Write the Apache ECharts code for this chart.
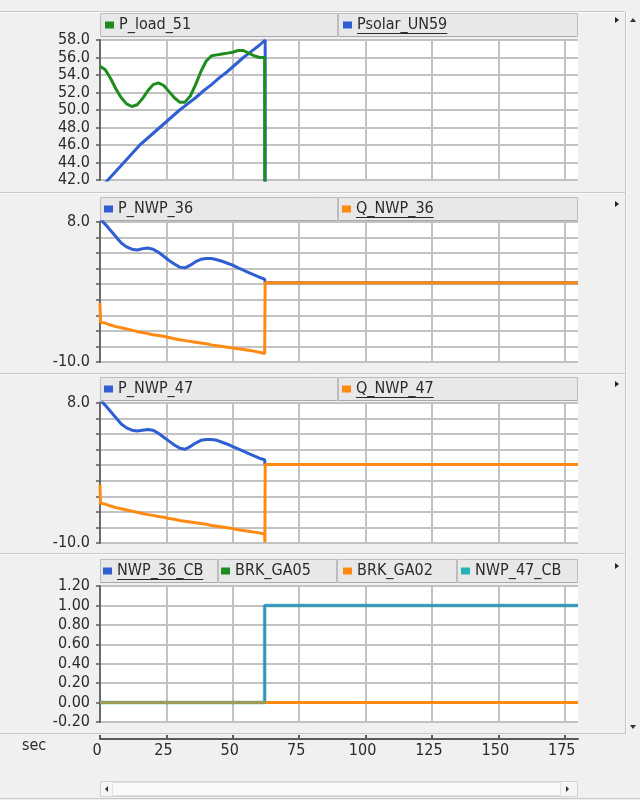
<!DOCTYPE html>
<html>
<head>
<meta charset="utf-8">
<script src="https://cdn.jsdelivr.net/npm/echarts@6/dist/echarts.min.js"></script>
<style>
html,body{margin:0;padding:0;background:#f0f0f0;}
#chart{width:640px;height:800px;}
</style>
</head>
<body>
<div id="chart"></div>
<script>
// ---- time axis ----
const timeTicks = [0, 25, 50, 75, 100, 125, 150, 175];
const timeRange = [0, 180];

// ---- panel 1: load and solar power ----
const loadTime = [0,2,4,6,8,10,12,14,16,18,20,22,24,26,28,30,32,34,36,38,40,42,44,46,48,50,52,54,56,58,60,62,62.1];
const pLoad51 = [55.0,54.6,53.6,52.4,51.4,50.7,50.4,50.6,51.3,52.2,52.9,53.1,52.8,52.1,51.4,50.9,50.9,51.6,52.9,54.4,55.6,56.2,56.3,56.4,56.5,56.6,56.8,56.8,56.5,56.2,56.0,56.0,0];
const solarTime = [0,3,6,9,12,15,18,21,24,27,30,33,36,39,42,45,48,51,54,57,60,62.2,62.3];
const pSolarUN59 = [41.0,42.0,43.0,44.0,45.0,46.0,46.8,47.6,48.4,49.2,50.0,50.7,51.4,52.2,52.9,53.7,54.4,55.2,56.0,56.7,57.4,58.0,0];
const range1 = [42, 58, 2];

// ---- panel 2: NWP 36 ----
const nwp36Time = [0,0.2,2,4,6,8,10,12,14,16,18,20,22,24,26,28,30,32,34,36,38,40,42,44,46,48,50,52,54,56,58,60,62,62.2,180];
const pNWP36 = [8.4,8.3,7.7,6.9,6.1,5.3,4.8,4.5,4.4,4.55,4.65,4.5,4.1,3.6,3.05,2.6,2.2,2.1,2.45,2.9,3.2,3.3,3.3,3.15,2.95,2.7,2.45,2.1,1.8,1.5,1.2,0.9,0.65,0.2,0.2];
const qNWP36 = [-2.4,-4.9,-5.0,-5.25,-5.45,-5.6,-5.75,-5.9,-6.1,-6.2,-6.35,-6.5,-6.6,-6.7,-6.85,-7.0,-7.15,-7.25,-7.35,-7.45,-7.55,-7.65,-7.8,-7.9,-8.0,-8.1,-8.2,-8.3,-8.4,-8.5,-8.6,-8.75,-8.9,0.2,0.2];
const range2 = [-10, 8, 2];

// ---- panel 3: NWP 47 ----
const nwp47Time = [0,0.2,2,4,6,8,10,12,14,16,18,20,22,24,26,28,30,32,34,36,38,40,42,44,46,48,50,52,54,56,58,60,62,62.1,62.2,180];
const pNWP47 = [8.4,8.3,7.7,6.9,6.1,5.3,4.8,4.5,4.4,4.5,4.6,4.5,4.1,3.6,3.1,2.6,2.2,2.05,2.4,2.85,3.2,3.3,3.3,3.2,2.95,2.7,2.4,2.1,1.8,1.5,1.2,0.9,0.7,0.1,0.1,0.1];
const qNWP47 = [-2.5,-4.9,-5.0,-5.25,-5.45,-5.6,-5.75,-5.9,-6.05,-6.2,-6.35,-6.45,-6.6,-6.7,-6.85,-6.95,-7.1,-7.2,-7.3,-7.4,-7.5,-7.6,-7.75,-7.85,-7.95,-8.05,-8.15,-8.3,-8.4,-8.5,-8.6,-8.7,-8.85,-9.9,0.1,0.1];
const range3 = [-10, 8, 2];

// ---- panel 4: breaker states ----
const cbTime = [0, 62, 62, 180];
const nwp36CB = [0, 0, 1, 1];
const brkGA05 = [0, 0, 0, 0];
const brkGA02 = [0, 0, 0, 0];
const nwp47CB = [0, 0, 1, 1];
const range4 = [-0.2, 1.2, 0.2];

// ---- styling ----
const FONT = "'DejaVu Sans Condensed','DejaVu Sans',sans-serif";
const TEXT = '#2b2b2b';
const GRIDC = '#c2c2c2';
const C_GREEN = '#1f8c1f';
const C_BLUE = '#2f5fd2';
const C_ORANGE = '#ff8a12';
const C_CYAN = '#2cadad';
const C_CB = '#3a78c8';

const zip = (t, v) => t.map((x, i) => [x, v[i]]);

const panels = [
  { top: 40,  bottom: 180, range: range1, fmt: v => v.toFixed(1), legendY: 25,  sepY: 11 },
  { top: 222, bottom: 362, range: range2, fmt: v => (v === 8 || v === -10) ? v.toFixed(1) : '', legendY: 209, sepY: 192 },
  { top: 403, bottom: 543, range: range3, fmt: v => (v === 8 || v === -10) ? v.toFixed(1) : '', legendY: 389, sepY: 373 },
  { top: 586, bottom: 722, range: range4, fmt: v => v.toFixed(2), legendY: 571, sepY: 553 }
];

const LEFT = 100, RIGHT = 578;

const grid = panels.map(p => ({
  left: LEFT, width: RIGHT - LEFT, top: p.top, height: p.bottom - p.top,
  show: true, backgroundColor: '#ffffff', borderWidth: 0
}));
grid.push({ left: LEFT, width: RIGHT - LEFT, top: 738, height: 1, show: false });

const xAxis = panels.map((p, i) => ({
  type: 'value', gridIndex: i, min: timeRange[0], max: timeRange[1], interval: 25,
  axisLine: { show: false }, axisTick: { show: false }, axisLabel: { show: false },
  splitLine: { show: true, showMaxLine: false, lineStyle: { color: GRIDC, width: 2 } }
}));
xAxis.push({
  type: 'value', gridIndex: 4, min: timeRange[0], max: timeRange[1], interval: 25,
  position: 'bottom',
  axisLine: { show: true, lineStyle: { color: '#5a5a5a', width: 2 } },
  axisTick: { show: true, inside: true, length: 4, customValues: timeTicks, lineStyle: { color: '#5a5a5a', width: 2 } },
  axisLabel: { show: true, customValues: timeTicks, margin: 4, padding: [0, 6, 0, 0],
    fontFamily: FONT, fontSize: 16, color: TEXT },
  splitLine: { show: false }
});

const yAxis = panels.map((p, i) => ({
  type: 'value', gridIndex: i, min: p.range[0], max: p.range[1], interval: p.range[2],
  axisLine: { show: true, lineStyle: { color: '#6a6a6a', width: 2 } },
  axisTick: { show: true, length: 4, lineStyle: { color: '#5a5a5a', width: 1.5 } },
  axisLabel: { show: true, margin: 10, formatter: v => p.fmt(Math.round(v * 100) / 100),
    fontFamily: FONT, fontSize: 16, color: TEXT },
  splitLine: { show: true, lineStyle: { color: GRIDC, width: 2 } }
}));
yAxis.push({ type: 'value', gridIndex: 4, show: false });

function line(name, idx, data, color, width, z, opacity) {
  return {
    name, type: 'line', xAxisIndex: idx, yAxisIndex: idx, data,
    showSymbol: false, symbol: 'none', z, clip: true,
    itemStyle: { color },
    lineStyle: { color, width, opacity: opacity == null ? 1 : opacity },
    emphasis: { disabled: true }
  };
}

const series = [
  line('Psolar_UN59', 0, zip(solarTime, pSolarUN59), C_BLUE, 3, 3),
  line('P_load_51', 0, zip(loadTime, pLoad51), C_GREEN, 3, 4),
  line('P_NWP_36', 1, zip(nwp36Time, pNWP36), C_BLUE, 3, 3),
  line('Q_NWP_36', 1, zip(nwp36Time, qNWP36), C_ORANGE, 3, 4),
  line('P_NWP_47', 2, zip(nwp47Time, pNWP47), C_BLUE, 3, 3),
  line('Q_NWP_47', 2, zip(nwp47Time, qNWP47), C_ORANGE, 3, 4),
  line('BRK_GA05', 3, zip(cbTime, brkGA05), C_GREEN, 3, 2),
  line('NWP_36_CB', 3, zip(cbTime, nwp36CB), C_CB, 2.5, 3),
  line('BRK_GA02', 3, zip(cbTime, brkGA02), C_ORANGE, 3, 4),
  line('NWP_47_CB', 3, zip(cbTime, nwp47CB), C_CYAN, 4, 5, 0.45)
];

// legend entries: [name, icon left, panel index, underlined]
const legendItems = [
  ['P_load_51', 105, 0, false], ['Psolar_UN59', 343, 0, true],
  ['P_NWP_36', 104, 1, false], ['Q_NWP_36', 342, 1, true],
  ['P_NWP_47', 104, 2, false], ['Q_NWP_47', 342, 2, true],
  ['NWP_36_CB', 103, 3, true], ['BRK_GA05', 221, 3, false],
  ['BRK_GA02', 343, 3, false], ['NWP_47_CB', 461, 3, false]
];
const legendColor = {
  P_load_51: C_GREEN, Psolar_UN59: C_BLUE, P_NWP_36: C_BLUE, Q_NWP_36: C_ORANGE,
  P_NWP_47: C_BLUE, Q_NWP_47: C_ORANGE, NWP_36_CB: C_BLUE, BRK_GA05: C_GREEN,
  BRK_GA02: C_ORANGE, NWP_47_CB: '#22b4b8'
};
const legend = legendItems.map(([name, x, pi]) => ({
  data: [{ name, itemStyle: { color: legendColor[name], opacity: 1 }, lineStyle: { opacity: 0 } }],
  left: x, top: panels[pi].legendY - 10, padding: 0,
  icon: 'rect', itemWidth: 9, itemHeight: 7, selectedMode: false,
  textStyle: { fontFamily: FONT, fontSize: 16, color: TEXT, lineHeight: 20 }
}));

// window chrome: separators, legend boxes, scroll bars
const graphic = [];
const hline = (y, x1, x2, c, w) => graphic.push({ type: 'line', shape: { x1, y1: y, x2, y2: y }, style: { stroke: c, lineWidth: w || 1 }, silent: true, z: 0 });
const tri = (pts, c) => graphic.push({ type: 'polygon', shape: { points: pts }, style: { fill: c || '#222' }, silent: true, z: 1 });

panels.forEach((p, i) => {
  hline(p.sepY + 0.5, 0, 625, '#c8c8c8', 1);
  hline(p.sepY + 1.5, 0, 625, '#fbfbfb', 1);
  const boxTop = p.legendY - 12, boxH = 23;
  const edges = i === 3 ? [LEFT, 218, 337, 457, RIGHT] : [LEFT, 338, RIGHT];
  for (let k = 0; k < edges.length - 1; k++) {
    graphic.push({ type: 'rect', shape: { x: edges[k] + 0.5, y: boxTop + 0.5, width: edges[k + 1] - edges[k] - 1, height: boxH },
      style: { fill: '#e8e8e8', stroke: '#bdbdbd', lineWidth: 1 }, silent: true, z: 0 });
    hline(boxTop + boxH + 0.5, edges[k] + 1, edges[k + 1] - 1, '#a9a9a9', 1);
  }
  // small expander marker at the right of each header
  tri([[615, p.legendY - 8], [619, p.legendY - 5], [615, p.legendY - 2]]);
});
hline(733.5, 0, 625, '#c8c8c8', 1);
hline(798.5, 0, 640, '#c8c8c8', 1);

// vertical scroll strip
graphic.push({ type: 'line', shape: { x1: 625.5, y1: 12, x2: 625.5, y2: 734 }, style: { stroke: '#c4c4c4', lineWidth: 1 }, silent: true });
graphic.push({ type: 'line', shape: { x1: 626.5, y1: 12, x2: 626.5, y2: 734 }, style: { stroke: '#fafafa', lineWidth: 1 }, silent: true });
tri([[630, 22], [636, 22], [633, 18]], '#333');
tri([[630, 725], [636, 725], [633, 729]], '#333');

// horizontal scroll bar
graphic.push({ type: 'rect', shape: { x: 100.5, y: 781.5, width: 477, height: 15 }, style: { fill: '#f6f6f6', stroke: '#d2d2d2', lineWidth: 1 }, silent: true });
graphic.push({ type: 'rect', shape: { x: 112.5, y: 782.5, width: 448, height: 13 }, style: { fill: '#f9f9f9', stroke: '#e0e0e0', lineWidth: 1 }, silent: true });
tri([[108, 786], [108, 792], [105, 789]], '#333');
tri([[566, 786], [566, 792], [569, 789]], '#333');

// time unit caption
graphic.push({ type: 'text', left: 22, top: 738, silent: true,
  style: { text: 'sec', font: '16px ' + FONT, fill: TEXT } });

const chart = echarts.init(document.getElementById('chart'), null, { renderer: 'canvas' });
chart.setOption({
  backgroundColor: '#f0f0f0',
  animation: false,
  grid, xAxis, yAxis, series, legend, graphic
});

// underline the active signal names in the headers
const extra = [];
legendItems.forEach(([name, x, pi, under]) => {
  if (!under) return;
  const t = new echarts.graphic.Text({ style: { text: name, font: '16px ' + FONT } });
  const w = t.getBoundingRect().width;
  const x0 = x + 9 + 5;
  const y = panels[pi].legendY + 8.5;
  extra.push({ type: 'line', shape: { x1: x0, y1: y, x2: x0 + w, y2: y }, style: { stroke: TEXT, lineWidth: 1 }, silent: true, z: 10 });
});
chart.setOption({ graphic: graphic.concat(extra) });
</script>
</body>
</html>
